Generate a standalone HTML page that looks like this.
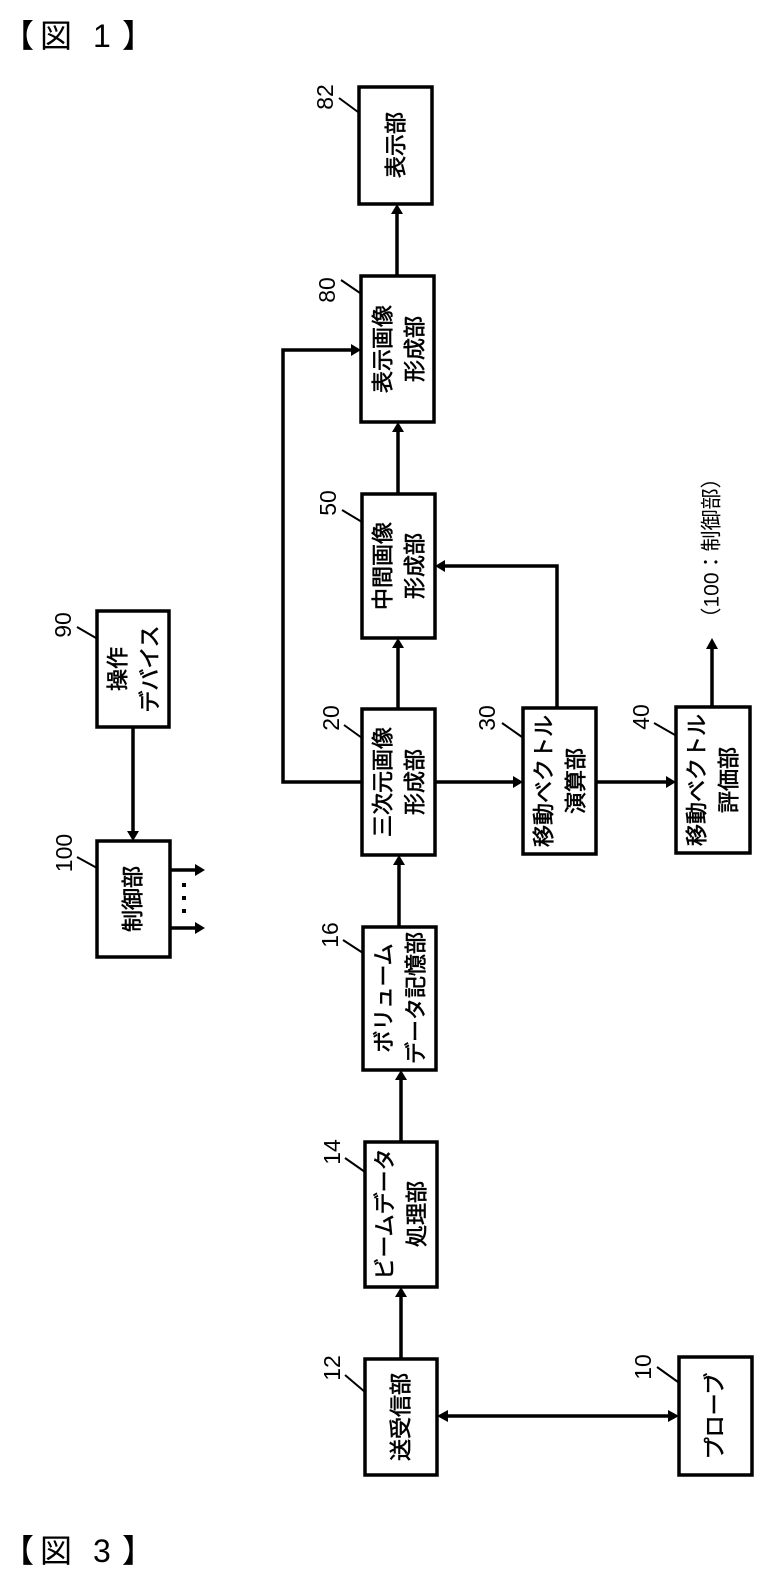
<!DOCTYPE html>
<html><head><meta charset="utf-8"><style>
html,body{margin:0;padding:0;background:#fff;}
svg{display:block;}
text{font-family:"Liberation Sans","Noto Sans CJK JP",sans-serif;fill:#000;}
</style></head><body>
<svg width="762" height="1578" viewBox="0 0 762 1578" xmlns="http://www.w3.org/2000/svg">
<g font-size="32">
<text x="2" y="47">【</text><text x="40" y="47">図</text><text x="93" y="47">1</text><text x="122" y="47">】</text>
<text x="2" y="1562">【</text><text x="40" y="1562">図</text><text x="93" y="1562">3</text><text x="122" y="1562">】</text>
</g>
<g fill="none" stroke="#000" stroke-width="3.5">
<rect x="359" y="87" width="73" height="117"/>
<rect x="361" y="276" width="73" height="146"/>
<rect x="362" y="494" width="73" height="144"/>
<rect x="362" y="709" width="73" height="146"/>
<rect x="523" y="708" width="73" height="146"/>
<rect x="676" y="707" width="74" height="146"/>
<rect x="363" y="927" width="73" height="143"/>
<rect x="365" y="1142" width="72" height="145"/>
<rect x="365" y="1359" width="72" height="116"/>
<rect x="679" y="1357" width="73" height="118"/>
<rect x="97" y="611" width="72" height="116"/>
<rect x="97" y="841" width="73" height="116"/>
<line x1="397" y1="276" x2="397" y2="212"/>
<line x1="398" y1="494" x2="398" y2="430"/>
<line x1="398" y1="709" x2="398" y2="646"/>
<line x1="399" y1="927" x2="399" y2="863"/>
<line x1="401" y1="1142" x2="401" y2="1078"/>
<line x1="401" y1="1359" x2="401" y2="1295"/>
<polyline points="362,782 283,782 283,350 352,350"/>
<polyline points="557,708 557,566 444,566"/>
<line x1="435" y1="782" x2="514" y2="782"/>
<line x1="596" y1="782" x2="667" y2="782"/>
<line x1="712" y1="707" x2="712" y2="648"/>
<line x1="447" y1="1416" x2="670" y2="1416"/>
<line x1="133" y1="727" x2="133" y2="832"/>
<line x1="170" y1="870" x2="196" y2="870"/>
<line x1="170" y1="928" x2="196" y2="928"/>
</g>
<g fill="#000">
<polygon points="397,204 391,214 403,214"/>
<polygon points="398,422 392,432 404,432"/>
<polygon points="398,638 392,648 404,648"/>
<polygon points="399,855 393,865 405,865"/>
<polygon points="401,1070 395,1080 407,1080"/>
<polygon points="401,1287 395,1297 407,1297"/>
<polygon points="361,350 351,344 351,356"/>
<polygon points="435,566 445,560 445,572"/>
<polygon points="523,782 513,776 513,788"/>
<polygon points="676,782 666,776 666,788"/>
<polygon points="712,638 706,649 718,649"/>
<polygon points="437,1416 448,1410 448,1422"/>
<polygon points="679,1416 668,1410 668,1422"/>
<polygon points="133,841 127,831 139,831"/>
<polygon points="205,870 195,864 195,876"/>
<polygon points="205,928 195,922 195,934"/>
<rect x="182" y="883" width="4" height="4"/>
<rect x="182" y="896" width="4" height="4"/>
<rect x="182" y="909" width="4" height="4"/>
</g>
<g stroke="#000" stroke-width="2">
<line x1="339" y1="98" x2="358" y2="112"/>
<line x1="341" y1="280" x2="360" y2="293"/>
<line x1="342" y1="510" x2="362" y2="522"/>
<line x1="344" y1="725" x2="362" y2="738"/>
<line x1="502" y1="723" x2="522" y2="737"/>
<line x1="654" y1="723" x2="675" y2="735"/>
<line x1="343" y1="940" x2="363" y2="953"/>
<line x1="345" y1="1158" x2="365" y2="1172"/>
<line x1="345" y1="1375" x2="365" y2="1392"/>
<line x1="657" y1="1367" x2="678" y2="1382"/>
<line x1="77" y1="627" x2="96" y2="638"/>
<line x1="77" y1="857" x2="97" y2="868"/>
</g>
<g font-size="23" text-anchor="middle" dominant-baseline="central">
<text transform="translate(325,97) rotate(-90)">82</text>
<text transform="translate(327,290) rotate(-90)">80</text>
<text transform="translate(328,503) rotate(-90)">50</text>
<text transform="translate(331,718) rotate(-90)">20</text>
<text transform="translate(487,718) rotate(-90)">30</text>
<text transform="translate(641,717) rotate(-90)">40</text>
<text transform="translate(330,935) rotate(-90)">16</text>
<text transform="translate(332,1152) rotate(-90)">14</text>
<text transform="translate(332,1368) rotate(-90)">12</text>
<text transform="translate(643,1367) rotate(-90)">10</text>
<text transform="translate(63,625) rotate(-90)">90</text>
<text transform="translate(64,853) rotate(-90)">100</text>
</g>
<g font-size="22" text-anchor="middle" dominant-baseline="central" stroke="#000" stroke-width="0.6">
<text transform="translate(396,145) rotate(-90)">表示部</text>
<text transform="translate(383,349) rotate(-90)">表示画像</text>
<text transform="translate(415,349) rotate(-90)">形成部</text>
<text transform="translate(383,566) rotate(-90)">中間画像</text>
<text transform="translate(415,566) rotate(-90)">形成部</text>
<text transform="translate(383,782) rotate(-90)">三次元画像</text>
<text transform="translate(415,782) rotate(-90)">形成部</text>
<text transform="translate(544,781) rotate(-90)">移動ベクトル</text>
<text transform="translate(576,781) rotate(-90)">演算部</text>
<text transform="translate(697,780) rotate(-90)">移動ベクトル</text>
<text transform="translate(729,780) rotate(-90)">評価部</text>
<text transform="translate(384,998) rotate(-90)">ボリューム</text>
<text transform="translate(416,998) rotate(-90)">データ記憶部</text>
<text transform="translate(385,1214) rotate(-90)">ビームデータ</text>
<text transform="translate(417,1214) rotate(-90)">処理部</text>
<text transform="translate(401,1417) rotate(-90)">送受信部</text>
<text transform="translate(715,1416) rotate(-90)">プローブ</text>
<text transform="translate(118,669) rotate(-90)">操作</text>
<text transform="translate(150,669) rotate(-90)">デバイス</text>
<text transform="translate(133,899) rotate(-90)">制御部</text>
</g>
<text font-size="21" text-anchor="middle" dominant-baseline="central" transform="translate(712,548) rotate(-90)">（100：制御部）</text>
</svg>
</body></html>
